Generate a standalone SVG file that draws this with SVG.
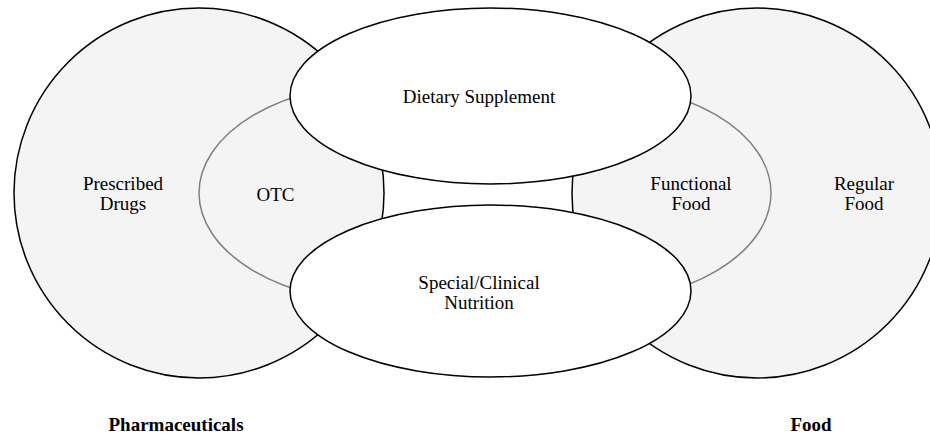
<svg xmlns="http://www.w3.org/2000/svg" width="930" height="436" viewBox="0 0 930 436">
<style>
.big{fill:#f4f4f4;stroke:#000;stroke-width:1.5}
.inner{fill:none;stroke:#808080;stroke-width:1.5}
.white{fill:#fff;stroke:#000;stroke-width:1.5}
text{font-family:"Liberation Serif","Times New Roman",serif;font-size:19px;fill:#000;text-anchor:middle}
.b{font-weight:bold}
</style>
<defs>
<clipPath id="cl"><circle cx="199" cy="193" r="185"/></clipPath>
<clipPath id="cr"><circle cx="757" cy="193" r="185"/></clipPath>
</defs>
<g id="pharmaceuticals">
<circle class="big" cx="199" cy="193" r="185"/>
<text x="123" y="190">Prescribed</text>
<text x="123" y="210">Drugs</text>
<text class="b" x="176" y="431">Pharmaceuticals</text>
</g>
<g id="food">
<circle class="big" cx="757" cy="193" r="185"/>
<text x="864" y="190">Regular</text>
<text x="864" y="210">Food</text>
<text class="b" x="811" y="431">Food</text>
</g>
<g id="otc">
<ellipse class="inner" cx="385" cy="193" rx="186" ry="110" clip-path="url(#cl)"/>
<text x="275.5" y="201">OTC</text>
</g>
<g id="functional-food">
<ellipse class="inner" cx="585" cy="193" rx="186" ry="110" clip-path="url(#cr)"/>
<text x="691" y="190">Functional</text>
<text x="691" y="210">Food</text>
</g>
<g id="dietary-supplement">
<ellipse class="white" cx="490.5" cy="96" rx="200.5" ry="88"/>
<text x="479" y="103">Dietary Supplement</text>
</g>
<g id="special-clinical-nutrition">
<ellipse class="white" cx="490.5" cy="291" rx="200.5" ry="86"/>
<text x="479" y="289">Special/Clinical</text>
<text x="479" y="309">Nutrition</text>
</g>
<g id="connectors"/>
</svg>
